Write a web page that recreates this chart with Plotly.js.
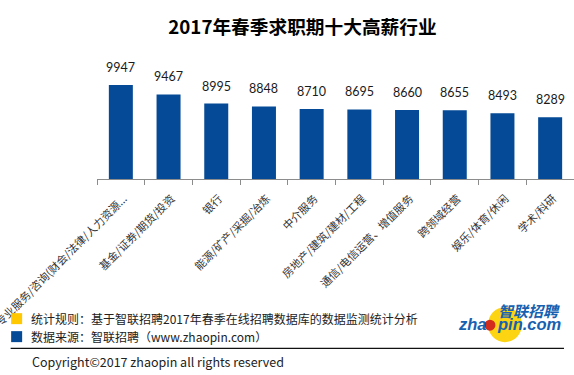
<!DOCTYPE html>
<html>
<head>
<meta charset="utf-8">
<script src="https://cdn.plot.ly/plotly-3.0.1.min.js"></script>
<style>
html,body{margin:0;padding:0;background:#fff;}
#chart{width:574px;height:375px;}
</style>
</head>
<body>
<div id="chart"></div>
<script>
// ---- data ----
const chartTitle = "2017年春季求职期十大高薪行业";
const categories = [
  "专业服务/咨询(财会/法律/人力资源...",
  "基金/证券/期货/投资",
  "银行",
  "能源/矿产/采掘/冶炼",
  "中介服务",
  "房地产/建筑/建材/工程",
  "通信/电信运营、增值服务",
  "跨领域经营",
  "娱乐/体育/休闲",
  "学术/科研"
];
const salaries = [9947, 9467, 8995, 8848, 8710, 8695, 8660, 8655, 8493, 8289];
const noteRule = "统计规则：基于智联招聘2017年春季在线招聘数据库的数据监测统计分析";
const noteSource = "数据来源：智联招聘（www.zhaopin.com）";
const copyrightText = "Copyright©2017 zhaopin all rights reserved";

// ---- geometry helpers (pixel -> paper) ----
const W = 574, H = 375;
const M = {l: 97.3, r: 0, t: 83.6, b: 196.3};
const PW = W - M.l - M.r, PH = H - M.t - M.b;
const px = x => (x - M.l) / PW;
const py = y => (H - M.b - y) / PH;

const blue = "#054a96";
const yellow = "#ffc800";
const cjk = "'Noto Sans CJK SC', 'Noto Sans', sans-serif";

const valueLabels = categories.map((c, i) => ({
  x: c, y: salaries[i], xref: "x", yref: "y",
  text: String(salaries[i]), showarrow: false,
  yanchor: "bottom", yshift: 8,
  font: {family: "Lato, 'Liberation Sans', sans-serif", size: 12.5, color: "#1a1a1a"}
}));

const textAnn = (x, y, text, opts) => Object.assign({
  x: px(x), y: py(y), xref: "paper", yref: "paper", text: text,
  showarrow: false, xanchor: "left", yanchor: "middle",
  font: {family: cjk, size: 12, color: "#222"}
}, opts || {});

const annotations = valueLabels.concat([
  textAnn(29, 318.5, noteRule),
  textAnn(29, 336.5, noteSource),
  textAnn(30, 361, copyrightText, {font: {family: cjk, size: 12.5, color: "#222"}}),
  textAnn(456, 324, "<b><i>zha</i></b>", {font: {family: "'Liberation Sans', Arial, sans-serif", size: 16.5, color: "#1761b0"}}),
  textAnn(495, 324, "<b><i>pin.com</i></b>", {font: {family: "'Liberation Sans', Arial, sans-serif", size: 16.5, color: "#1761b0"}}),
  textAnn(496, 310.5, "<b><i>智联招聘</i></b>", {font: {family: cjk, size: 15, color: "#1761b0"}})
]);

const shapes = [
  {type: "rect", xref: "paper", yref: "paper", x0: px(11.5), x1: px(22.5), y0: py(313), y1: py(324), fillcolor: yellow, line: {width: 0}},
  {type: "rect", xref: "paper", yref: "paper", x0: px(11.5), x1: px(22.5), y0: py(331), y1: py(342), fillcolor: blue, line: {width: 0}},
  {type: "line", xref: "paper", yref: "paper", x0: px(11), x1: px(564), y0: py(348.3), y1: py(348.3), line: {color: "#111", width: 1.3}},
  {type: "circle", xref: "paper", yref: "paper", layer: "below", x0: px(488), x1: px(522), y0: py(307), y1: py(342), fillcolor: "#fcd411", line: {width: 0}},
  {type: "circle", xref: "paper", yref: "paper", x0: px(484.5), x1: px(495.5), y0: py(319.5), y1: py(330.5), fillcolor: "#d42a1e", line: {width: 0}}
];

const trace = {
  type: "bar", x: categories, y: salaries,
  marker: {color: blue}, hoverinfo: "none", cliponaxis: false
};

const layout = {
  width: W, height: H,
  margin: M,
  paper_bgcolor: "#fff", plot_bgcolor: "#fff",
  showlegend: false,
  bargap: 0.497,
  title: {
    text: "<b>" + chartTitle + "</b>",
    xref: "container", yref: "container",
    x: 302.5 / W, xanchor: "center",
    y: 1 - 27 / H, yanchor: "middle",
    font: {family: cjk, size: 18.7, color: "#000"}
  },
  xaxis: {
    type: "category",
    showgrid: false, zeroline: false,
    showline: true, linecolor: "#8c8c8c", linewidth: 1,
    ticks: "outside", tickson: "boundaries", ticklen: 5, tickcolor: "#8c8c8c", tickwidth: 1,
    tickangle: -45, automargin: false,
    ticklabelstandoff: 8, ticklabelshift: 3,
    tickfont: {family: cjk, size: 11, color: "#333"}
  },
  yaxis: {
    visible: false, range: [5120, 10000], fixedrange: true
  },
  annotations: annotations,
  shapes: shapes
};

Plotly.newPlot("chart", [trace], layout, {staticPlot: true, displayModeBar: false});
</script>
</body>
</html>
